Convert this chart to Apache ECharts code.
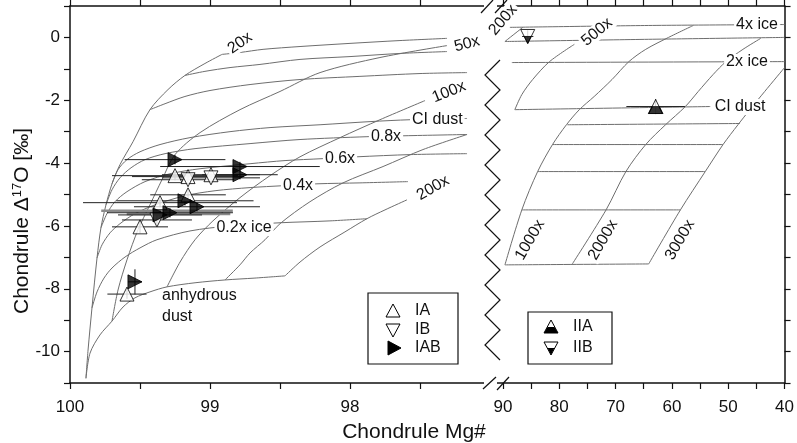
<!DOCTYPE html>
<html>
<head>
<meta charset="utf-8">
<script src="https://cdn.jsdelivr.net/npm/echarts@6/dist/echarts.min.js"></script>
<style>
  html, body { margin: 0; padding: 0; background: #fff; }
  #chart { width: 797px; height: 443px; }
</style>
</head>
<body>
<div id="chart"></div>
<script>
// ---- model curves, left panel (Mg#, D17O) ----
const dust20 = [[99.886,-10.85],[99.871,-9.95],[99.843,-8.61],[99.807,-7.02],[99.779,-6.06],[99.743,-5.33],[99.7,-4.66],[99.643,-4.05],[99.55,-3.32],[99.429,-2.30],[99.3,-1.66],[99.179,-1.21],[99.036,-0.83],[98.914,-0.54]]
const dust50 = [[99.7,-9.03],[99.657,-8.04],[99.593,-7.08],[99.514,-6.12],[99.429,-5.33],[99.343,-4.53],[99.25,-3.73],[99.071,-3.03],[98.786,-2.30],[98.5,-1.72],[98.214,-1.12],[97.786,-0.64],[97.307,-0.26]]
const dust100 = [[99.307,-7.94],[99.214,-7.15],[99.107,-6.44],[98.979,-5.84],[98.786,-5.10],[98.571,-4.40],[98.357,-3.80],[98.071,-3.19],[97.786,-2.62],[97.464,-2.01]]
const dust150 = [[98.893,-7.72],[98.786,-7.24],[98.714,-6.86],[98.607,-6.44],[98.5,-5.93],[98.286,-5.23],[98.05,-4.63],[97.764,-4.11],[97.479,-3.57],[97.164,-3.09]]
const dust200 = [[98.464,-7.59],[98.357,-7.15],[98.214,-6.67],[98.036,-6.19],[97.879,-5.77],[97.75,-5.49],[97.593,-5.17]]

const iceAnh = [[99.886,-10.85],[99.857,-10.05],[99.786,-9.47],[99.7,-9.03],[99.621,-8.58],[99.536,-8.29],[99.429,-8.10],[99.307,-7.94],[99.107,-7.81],[98.893,-7.72],[98.679,-7.66],[98.464,-7.59]]
const ice02 = [[99.843,-8.61],[99.807,-8.10],[99.757,-7.66],[99.7,-7.34],[99.607,-6.99],[99.5,-6.70],[99.379,-6.44],[99.143,-6.16],[98.857,-6.00],[98.5,-5.90],[98.143,-5.84],[97.879,-5.77]]
const ice04 = [[99.807,-7.02],[99.771,-6.60],[99.714,-6.22],[99.643,-5.93],[99.536,-5.61],[99.393,-5.33],[99.179,-5.04],[98.964,-4.88],[98.714,-4.78],[98.479,-4.72],[98.236,-4.66],[97.929,-4.63],[97.586,-4.59]]
const ice06 = [[99.779,-6.06],[99.736,-5.61],[99.679,-5.23],[99.593,-4.91],[99.464,-4.59],[99.286,-4.34],[99.071,-4.18],[98.714,-4.02],[98.464,-3.92],[98.2,-3.86],[97.95,-3.80],[97.571,-3.73],[97.164,-3.70]]
const ice08 = [[99.743,-5.33],[99.7,-4.85],[99.643,-4.47],[99.564,-4.15],[99.464,-3.89],[99.321,-3.70],[99.107,-3.54],[98.714,-3.38],[98.357,-3.25],[97.879,-3.16],[97.607,-3.13],[97.164,-3.09]]
const iceCI = [[99.7,-4.66],[99.657,-4.21],[99.593,-3.89],[99.5,-3.64],[99.357,-3.41],[99.143,-3.19],[98.857,-3.00],[98.571,-2.87],[98.214,-2.78],[97.857,-2.68],[97.571,-2.62],[97.164,-2.58]]
const ice2 = [[99.429,-2.30],[99.321,-2.11],[99.179,-1.88],[99.0,-1.69],[98.714,-1.50],[98.357,-1.34],[97.929,-1.24],[97.5,-1.15],[97.164,-1.12]]
const ice3 = [[99.179,-1.21],[99.036,-1.08],[98.857,-0.96],[98.643,-0.86],[98.357,-0.70],[98.0,-0.61],[97.643,-0.51],[97.307,-0.45]]
const ice4 = [[98.914,-0.54],[98.786,-0.48],[98.621,-0.38],[98.357,-0.29],[98.0,-0.19],[97.643,-0.10],[97.307,-0.03]]

// ---- model curves, right panel ----
const rIce4 = [[88.77,0.32],[64.12,0.38],[40,0.41]]
const rIce3 = [[89.65,-0.13],[64.12,-0.06],[40,0.0]]
const rIce2 = [[88.42,-0.80],[40,-0.77]]
const rIceCI = [[87.89,-2.30],[53.2,-2.20]]
const rIce08 = [[78.56,-2.78],[47.92,-2.74]]
const rIce06 = [[81.2,-3.41],[50.92,-3.41]]
const rIce04 = [[83.84,-4.27],[54.08,-4.27]]
const rIce02 = [[86.65,-5.49],[58.49,-5.49]]
const rIceAnh = [[89.65,-7.24],[64.12,-7.21]]
const rDust200 = [[89.65,-0.13],[86.48,0.32]]
const rDust500 = [[77.32,-0.22],[81.73,-0.77],[84.72,-1.34],[86.65,-1.82],[87.89,-2.30]]
const rDust1000 = [[56.2,0.38],[60.6,0],[64.65,-0.38],[67.64,-0.77],[70.63,-1.34],[73.8,-1.88],[76.44,-2.30],[78.73,-2.78],[81.2,-3.41],[83.84,-4.27],[86.65,-5.49],[89.65,-7.24]]
const rDust2000 = [[44.23,-0.03],[47.39,-0.38],[50.39,-0.77],[52.68,-1.18],[55.32,-1.72],[57.61,-2.20],[61.13,-2.78],[64.65,-3.41],[68.17,-4.27],[71.69,-5.49],[77.68,-7.21]]
const rDust3000 = [[40,-0.96],[43.52,-1.72],[46.16,-2.30],[48.27,-2.78],[50.92,-3.41],[54.08,-4.27],[58.49,-5.49],[64.12,-7.21]]

// ---- chondrules: [Mg#, D17O, xErr, yErr] ----
const typeIA = [[99.25,-4.40,0.45,0.15],[99.157,-4.43,0.4,0.15],[98.993,-4.37,0.35,0.15],[99.157,-5.01,0.27,0.15],[99.357,-5.26,0.55,0.15],[99.5,-6.03,0.2,0.2],[99.593,-8.17,0.14,0.15]]
const typeIB = [[99.157,-4.53,0.33,0.15],[98.993,-4.47,0.35,0.15],[99.379,-5.81,0.25,0.15]]
const typeIAB = [[99.25,-3.89,0.36,0.15],[98.786,-4.11,0.57,0.15],[98.786,-4.37,0.27,0.15],[99.179,-5.20,0.49,0.15],[99.093,-5.39,0.45,0.15],[99.357,-5.65,0.3,0.15],[99.286,-5.58,0.45,0.15],[99.536,-7.78,0.05,0.4]]
// wide grey error bars under the cluster: [Mg#, D17O, xErr]
const greyBars = [[99.307,-5.52,0.47],[99.225,-5.62,0.37]]
const typeIIA = [[62.89,-2.20,5.2,0.24]]
const typeIIB = [[85.6,0.03,1.0,0.2]]

const leftXTicks = [100, 99, 98]
const rightXTicks = [90, 80, 70, 60, 50, 40]
const yTicks = [0, -2, -4, -6, -8, -10]

const chart = echarts.init(document.getElementById('chart'))
const FONT = 'Liberation Sans'
const curveColor = '#6e6e6e'

function curve(data, panel) {
  return {
    type: 'line', data: data, xAxisIndex: panel * 2, yAxisIndex: panel,
    symbol: 'none', smooth: 0.3, silent: true,
    lineStyle: { color: curveColor, width: 1 }, z: 2
  }
}

function errBars(data, panel, color, width) {
  return {
    type: 'custom', data: data, xAxisIndex: panel * 2, yAxisIndex: panel, z: 3, silent: true,
    renderItem: function (params, api) {
      const x = api.value(0), y = api.value(1), dx = api.value(2), dy = api.value(3) || 0
      const l = api.coord([x - dx, y]), r = api.coord([x + dx, y])
      const t = api.coord([x, y + dy]), b = api.coord([x, y - dy])
      const st = { stroke: color || '#222', lineWidth: width || 1 }
      return {
        type: 'group', children: [
          { type: 'line', shape: { x1: l[0], y1: l[1], x2: r[0], y2: r[1] }, style: st },
          { type: 'line', shape: { x1: t[0], y1: t[1], x2: b[0], y2: b[1] }, style: st }
        ]
      }
    }
  }
}

function marks(data, panel, opts) {
  return Object.assign({
    type: 'scatter', data: data.map(d => [d[0], d[1]]), xAxisIndex: panel * 2, yAxisIndex: panel,
    symbolSize: 14, z: 5, silent: true
  }, opts)
}

const openStyle = { color: '#fff', borderColor: '#000', borderWidth: 1 }
const fillStyle = { color: '#000', borderColor: '#000', borderWidth: 1 }

const leftCurves = [dust20, dust50, dust100, dust150, dust200, iceAnh, ice02, ice04, ice06, ice08, iceCI, ice2, ice3, ice4]
const rightCurves = [rIce4, rIce3, rIce2, rIceCI, rIce08, rIce06, rIce04, rIce02, rIceAnh, rDust200, rDust500, rDust1000, rDust2000, rDust3000]

function xAxisCfg(grid, min, max, interval, pos, ticks) {
  return {
    type: 'value', gridIndex: grid, min: min, max: max, interval: interval, inverse: true, position: pos,
    axisLine: { onZero: false, lineStyle: { color: '#111', width: 1.5 } },
    axisTick: { show: true, length: 6, lineStyle: { color: '#111', width: 1.2 } },
    splitLine: { show: false },
    axisLabel: {
      show: pos === 'bottom', color: '#111', fontSize: 17, fontFamily: FONT, margin: 16,
      formatter: v => (ticks.indexOf(v) >= 0 ? String(v) : '')
    }
  }
}

function yAxisCfg(grid, pos, labels) {
  return {
    type: 'value', gridIndex: grid, min: -11, max: 1, interval: 1, position: pos,
    axisLine: { show: true, onZero: false, lineStyle: { color: '#111', width: 1.5 } },
    axisTick: { show: true, length: 6, lineStyle: { color: '#111', width: 1.2 } },
    splitLine: { show: false },
    axisLabel: {
      show: labels, color: '#111', fontSize: 17, fontFamily: FONT, margin: 10,
      formatter: v => (yTicks.indexOf(v) >= 0 ? String(v) : '')
    }
  }
}

// annotation text on the curves
function note(text, x, y, rotDeg, align) {
  return {
    type: 'text', x: x, y: y, rotation: (rotDeg || 0) * Math.PI / 180, z: 50,
    style: {
      text: text, fill: '#111', font: '16px "' + FONT + '"',
      align: align || 'center', verticalAlign: 'middle',
      backgroundColor: '#fff', padding: [0, 2]
    }
  }
}

function tri(cx, cy, dir, fill) {
  let pts
  if (dir === 'up') pts = [[cx - 7, cy + 6], [cx + 7, cy + 6], [cx, cy - 7]]
  else if (dir === 'down') pts = [[cx - 7, cy - 6], [cx + 7, cy - 6], [cx, cy + 7]]
  else pts = [[cx - 6, cy - 7], [cx - 6, cy + 7], [cx + 7, cy]]
  return { type: 'polygon', z: 60, shape: { points: pts }, style: { fill: fill, stroke: '#000', lineWidth: 1 } }
}

// zigzag of the axis break
const zig = []
for (let i = 0; i <= 20; i++) zig.push([i % 2 === 0 ? 500 : 485, 60 + i * 15])

const option = {
  animation: false,
  backgroundColor: '#fff',
  grid: [
    { left: 70, top: 6, width: 420, height: 377 },
    { left: 490, top: 6, width: 297, height: 377 }
  ],
  xAxis: [
    xAxisCfg(0, 97, 100, 0.5, 'bottom', leftXTicks),
    xAxisCfg(0, 97, 100, 0.5, 'top', leftXTicks),
    xAxisCfg(1, 40, 92.3, 5, 'bottom', rightXTicks),
    xAxisCfg(1, 40, 92.3, 5, 'top', rightXTicks)
  ],
  yAxis: [
    yAxisCfg(0, 'left', true),
    yAxisCfg(1, 'right', false)
  ],
  series: [].concat(
    leftCurves.map(c => curve(c, 0)),
    rightCurves.map(c => curve(c, 1)),
    [
      errBars(greyBars, 0, '#8a8a8a', 2.5),
      errBars(typeIA, 0), errBars(typeIB, 0), errBars(typeIAB, 0),
      errBars(typeIIA, 1), errBars(typeIIB, 1),
      marks(typeIA, 0, { symbol: 'triangle', itemStyle: openStyle }),
      marks(typeIB, 0, { symbol: 'triangle', symbolRotate: 180, itemStyle: openStyle }),
      marks(typeIAB, 0, { symbol: 'triangle', symbolRotate: -90, itemStyle: fillStyle }),
      marks(typeIIA, 1, { symbol: 'triangle', itemStyle: openStyle }),
      marks(typeIIA, 1, { symbol: 'path://M5,0L15,0L20,10L0,10Z', symbolSize: [14, 7], symbolOffset: [0, 3.5], itemStyle: fillStyle, z: 6 }),
      marks(typeIIB, 1, { symbol: 'triangle', symbolRotate: 180, itemStyle: openStyle }),
      marks(typeIIB, 1, { symbol: 'path://M0,0L20,0L10,10Z', symbolSize: [7, 7], symbolOffset: [0, 3.5], itemStyle: fillStyle, z: 6 })
    ]
  ),
  graphic: [
    // break gap in the frame
    { type: 'rect', z: 40, shape: { x: 484, y: 0, width: 13, height: 12 }, style: { fill: '#fff' } },
    { type: 'rect', z: 40, shape: { x: 484, y: 377, width: 13, height: 14 }, style: { fill: '#fff' } },
    { type: 'line', z: 41, shape: { x1: 481, y1: 13, x2: 493, y2: 0 }, style: { stroke: '#111', lineWidth: 1.2 } },
    { type: 'line', z: 41, shape: { x1: 495, y1: 13, x2: 507, y2: 0 }, style: { stroke: '#111', lineWidth: 1.2 } },
    { type: 'line', z: 41, shape: { x1: 483, y1: 389, x2: 496, y2: 377 }, style: { stroke: '#111', lineWidth: 1.2 } },
    { type: 'line', z: 41, shape: { x1: 497, y1: 390, x2: 509, y2: 377 }, style: { stroke: '#111', lineWidth: 1.2 } },
    { type: 'polyline', z: 41, shape: { points: zig }, style: { stroke: '#111', lineWidth: 1.2, fill: null } },

    // axis titles
    {
      type: 'text', x: 414, y: 432, z: 50,
      style: { text: 'Chondrule Mg#', fill: '#111', font: '21px "' + FONT + '"', align: 'center', verticalAlign: 'middle' }
    },
    {
      type: 'text', x: 22, y: 221, rotation: Math.PI / 2, z: 50,
      style: {
        text: '{a|Chondrule Δ}{s|17}{a|O [‰]}', align: 'center', verticalAlign: 'middle',
        rich: {
          a: { fill: '#111', fontSize: 21, fontFamily: FONT },
          s: { fill: '#111', fontSize: 13, fontFamily: FONT, padding: [0, 0, 9, 0] }
        }
      }
    },

    // left panel labels
    note('20x', 240, 43, 35),
    note('50x', 467, 44, 15),
    note('100x', 449, 92, 22),
    note('CI dust', 410, 120, 0, 'left'),
    note('0.8x', 386, 137),
    note('0.6x', 340, 159),
    note('0.4x', 298, 186),
    note('200x', 433, 188, 30),
    note('0.2x ice', 244, 228),
    { type: 'text', x: 162, y: 306, z: 50, style: { text: 'anhydrous\ndust', fill: '#111', font: '16px "' + FONT + '"', lineHeight: 21, verticalAlign: 'middle' } },

    // right panel labels
    note('200x', 503, 20, 50),
    note('500x', 597, 32, 40),
    note('4x ice', 757, 25),
    note('2x ice', 747, 62),
    note('CI dust', 740, 107),
    note('1000x', 530, 240, 60),
    note('2000x', 603, 240, 60),
    note('3000x', 680, 240, 60),

    // legend, type I
    { type: 'rect', z: 55, shape: { x: 368, y: 293, width: 90, height: 71 }, style: { fill: '#fff', stroke: '#111', lineWidth: 1.2 } },
    tri(393, 311, 'up', '#fff'),
    tri(393, 330, 'down', '#fff'),
    tri(394, 348, 'right', '#000'),
    { type: 'text', x: 415, y: 311, z: 60, style: { text: 'IA', fill: '#111', font: '16px "' + FONT + '"', verticalAlign: 'middle' } },
    { type: 'text', x: 415, y: 330, z: 60, style: { text: 'IB', fill: '#111', font: '16px "' + FONT + '"', verticalAlign: 'middle' } },
    { type: 'text', x: 415, y: 348, z: 60, style: { text: 'IAB', fill: '#111', font: '16px "' + FONT + '"', verticalAlign: 'middle' } },

    // legend, type II
    { type: 'rect', z: 55, shape: { x: 528, y: 312, width: 84, height: 52 }, style: { fill: '#fff', stroke: '#111', lineWidth: 1.2 } },
    tri(551, 327, 'up', '#fff'),
    { type: 'polygon', z: 61, shape: { points: [[547.5, 327], [554.5, 327], [558, 333], [544, 333]] }, style: { fill: '#000' } },
    tri(551, 348, 'down', '#fff'),
    { type: 'polygon', z: 61, shape: { points: [[547.5, 348], [554.5, 348], [551, 355]] }, style: { fill: '#000' } },
    { type: 'text', x: 573, y: 327, z: 60, style: { text: 'IIA', fill: '#111', font: '16px "' + FONT + '"', verticalAlign: 'middle' } },
    { type: 'text', x: 573, y: 348, z: 60, style: { text: 'IIB', fill: '#111', font: '16px "' + FONT + '"', verticalAlign: 'middle' } }
  ]
}

chart.setOption(option)
</script>
</body>
</html>
